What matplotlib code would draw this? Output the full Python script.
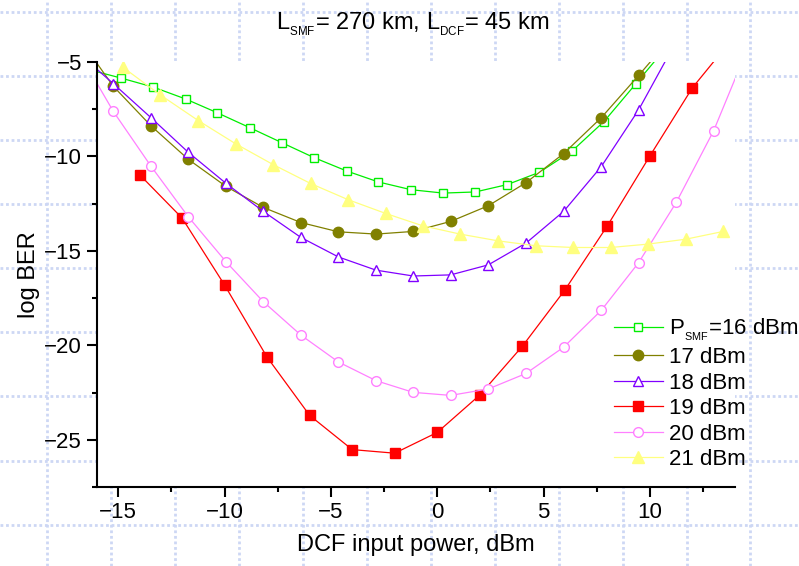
import numpy as np
import matplotlib.pyplot as plt
from matplotlib.lines import Line2D
from matplotlib.ticker import MultipleLocator

plt.rcParams['font.family'] = ['Liberation Sans', 'DejaVu Sans']
plt.rcParams['mathtext.fontset'] = 'custom'
plt.rcParams['mathtext.rm'] = 'Liberation Sans'
plt.rcParams['mathtext.it'] = 'Liberation Sans:italic'

# log BER vs DCF input power, one curve per SMF launch power
p16_x = [-16.39, -14.87, -13.35, -11.83, -10.34, -8.81, -7.29, -5.80, -4.26, -2.77,
         -1.24, 0.28, 1.79, 3.29, 4.80, 6.32, 7.84, 9.34, 10.86]
p16_y = [-5.4, -5.85, -6.33, -6.96, -7.69, -8.48, -9.28, -10.06, -10.77, -11.35,
         -11.76, -11.94, -11.88, -11.49, -10.84, -9.73, -8.15, -6.15, -4.1]

p17_x = [-17.0, -15.23, -13.46, -11.71, -9.93, -8.18, -6.41, -4.65, -2.88, -1.13,
         0.63, 2.40, 4.17, 5.94, 7.71, 9.47, 11.24]
p17_y = [-3.5, -6.29, -8.38, -10.15, -11.59, -12.70, -13.50, -13.99, -14.11, -13.97,
         -13.44, -12.61, -11.39, -9.85, -7.95, -5.71, -3.4]

p18_x = p17_x
p18_y = [-4.4, -6.15, -7.95, -9.78, -11.43, -12.91, -14.29, -15.32, -16.02, -16.33,
         -16.27, -15.74, -14.59, -12.91, -10.54, -7.53, -3.9]

p19_x = [-14, -12, -10, -8, -6, -4, -2, 0, 2, 4, 6, 8, 10, 12, 14]
p19_y = [-10.96, -13.26, -16.81, -20.63, -23.71, -25.52, -25.71, -24.61, -22.63,
         -20.05, -17.07, -13.67, -9.97, -6.36, -3.6]

p20_x = p17_x + [13.0, 14.77]
p20_y = [-4.2, -7.62, -10.52, -13.19, -15.58, -17.69, -19.46, -20.88, -21.87, -22.49,
         -22.65, -22.31, -21.49, -20.10, -18.15, -15.62, -12.43, -8.63, -3.8]

p21_x = [-14.79, -13.04, -11.24, -9.48, -7.72, -5.96, -4.19, -2.42, -0.69, 1.07,
         2.87, 4.64, 6.40, 8.15, 9.92, 11.69, 13.45]
p21_y = [-5.27, -6.73, -8.10, -9.33, -10.43, -11.43, -12.29, -13.02, -13.67, -14.11,
         -14.47, -14.73, -14.82, -14.82, -14.64, -14.38, -13.97]

# nested subscripts give the small, low Origin-style index
labels = [r'P$_{_{\mathrm{SMF}}}$=16 dBm', '17 dBm', '18 dBm', '19 dBm', '20 dBm', '21 dBm']
title = r'L$_{_{\mathrm{SMF}}}$= 270 km, L$_{_{\mathrm{DCF}}}$= 45 km'

W, H = 799, 566
fig = plt.figure(figsize=(W / 100, H / 100), dpi=100)

# dotted page grid behind everything
grid_col = '#cdd7f4'
for gx in [47, 111, 175, 239, 303, 367, 431, 495, 559, 623, 687, 750]:
    fig.add_artist(Line2D([gx / W, gx / W], [0, 1], transform=fig.transFigure,
                          color=grid_col, lw=2.0, ls=(0, (1, 1)), zorder=-5))
for gy in [12, 76, 140, 204, 268, 332, 396, 461, 525]:
    fig.add_artist(Line2D([0, 1], [1 - gy / H, 1 - gy / H], transform=fig.transFigure,
                          color=grid_col, lw=2.0, ls=(0, (1, 1)), zorder=-5))

ax = fig.add_axes([97 / W, 79 / H, 638 / W, 425 / H])
ax.set_facecolor('white')

ax.plot(p16_x, p16_y, color='#00ee00', lw=0.9, marker='s', ms=6.3,
        mfc='white', mec='#00ee00', mew=1.0, label=labels[0])
ax.plot(p17_x, p17_y, color='#808000', lw=0.9, marker='o', ms=7.5,
        mfc='#808000', mec='#808000', label=labels[1])
ax.plot(p18_x, p18_y, color='#8000ff', lw=0.9, marker='^', ms=7.5,
        mfc='white', mec='#8000ff', mew=1.0, label=labels[2])
ax.plot(p19_x, p19_y, color='#ff0000', lw=0.9, marker='s', ms=6.5,
        mfc='#ff0000', mec='#ff0000', label=labels[3])
ax.plot(p20_x, p20_y, color='#ff80ff', lw=0.9, marker='o', ms=7.0,
        mfc='white', mec='#ff80ff', mew=1.0, label=labels[4])
ax.plot(p21_x, p21_y, color='#ffff80', lw=0.9, marker='^', ms=8.5,
        mfc='#ffff80', mec='#ffff80', label=labels[5])

ax.set_xlim(-16, 14)
ax.set_ylim(-27.5, -5)
ax.xaxis.set_major_locator(MultipleLocator(5))
ax.xaxis.set_minor_locator(MultipleLocator(2.5))
ax.yaxis.set_major_locator(MultipleLocator(5))
ax.yaxis.set_minor_locator(MultipleLocator(2.5))

for s in ['top', 'right']:
    ax.spines[s].set_visible(False)
for s in ['left', 'bottom']:
    ax.spines[s].set_linewidth(1.5)
ax.tick_params(which='major', direction='out', length=7.2, width=1.5,
               labelsize=16, pad=3.5)
ax.tick_params(which='minor', direction='out', length=3.6, width=1.5)

ax.set_xlabel('DCF input power, dBm', fontsize=17)
ax.xaxis.set_label_coords(0.5, -0.11)
ax.set_ylabel('log BER', fontsize=17)
ax.yaxis.set_label_coords(-0.09, 0.5)

fig.text(413 / W, 1 - 29 / H, title, ha='center', va='baseline', fontsize=17)

ax.legend(loc='lower left', bbox_to_anchor=(0.81, 0.04), frameon=False, fontsize=16,
          handlelength=2.2, handletextpad=0.3, labelspacing=0.2,
          borderpad=0, borderaxespad=0)

fig.savefig('out.png', dpi=100)
